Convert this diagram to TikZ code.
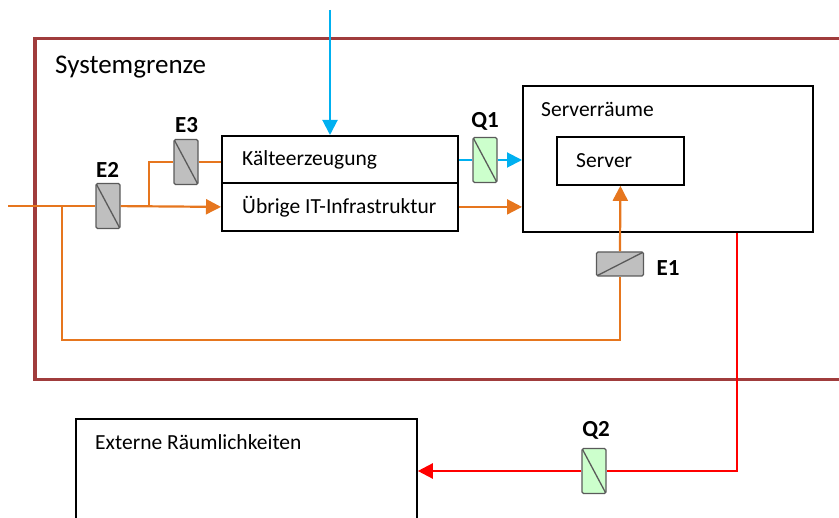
\documentclass[tikz,border=0pt]{standalone}
\usepackage{fontspec}
\setmainfont{Carlito}
\usepackage{tikz}
\usetikzlibrary{calc, arrows.meta, positioning}

\definecolor{grenzrot}{RGB}{160,60,60}
\definecolor{kaltblau}{RGB}{0,176,240}
\definecolor{stromorange}{RGB}{230,118,30}
\definecolor{waermerot}{RGB}{255,0,0}
\definecolor{zaehlergrau}{RGB}{191,191,191}
\definecolor{zaehlergruen}{RGB}{204,255,204}
\definecolor{randgrau}{RGB}{90,90,90}

\begin{document}
\begin{tikzpicture}[
        x={(1pt,0)}, y={(0,-1pt)},
        frame/.style={rectangle, draw=grenzrot, line width=3.5pt, anchor=north west},
        box/.style={rectangle, draw, line width=1.8pt, anchor=north west},
        txt/.style={anchor=west, inner sep=0pt, font=\fontsize{21.5}{25}\selectfont},
        lbl/.style={inner sep=0pt, font=\bfseries\fontsize{23}{27}\selectfont},
        meterv/.style={rectangle, draw=randgrau, line width=1.3pt, rounded corners=1.5pt, minimum width=24pt, minimum height=45pt, inner sep=0pt,
            path picture={\draw[randgrau, line width=1.3pt] (path picture bounding box.north west) -- (path picture bounding box.south east);}},
        meterh/.style={rectangle, draw=randgrau, line width=1.3pt, rounded corners=1.5pt, minimum width=47pt, minimum height=24pt, inner sep=0pt,
            path picture={\draw[randgrau, line width=1.3pt] (path picture bounding box.south west) -- (path picture bounding box.north east);}},
        orange/.style={draw=stromorange, line width=2.2pt},
        blau/.style={draw=kaltblau, line width=2pt},
        rot/.style={draw=waermerot, line width=2.4pt},
        arrow/.style={-{Triangle[length=15pt, width=15pt]}}
    ]
        \useasboundingbox (0,0) rectangle (839,518);
        \clip (0,0) rectangle (839,518);

        % Systemgrenze
        \node[frame, minimum width=830pt, minimum height=341pt] (sysgrenze) at (33,37) {};
        \node[txt, font=\fontsize{27}{31}\selectfont] (sysgrenze_text) at (55,67) {Systemgrenze};

        % Boxes
        \node[box, minimum width=236pt, minimum height=47pt] (kaelte) at (221,135) {};
        \node[txt] (kaelte_text) at (242,160) {Kälteerzeugung};
        \node[box, minimum width=236pt, minimum height=48pt] (uebrige) at (221,182) {};
        \node[txt] (uebrige_text) at (242,207) {Übrige IT-Infrastruktur};
        \node[box, minimum width=290pt, minimum height=146pt] (serverraum) at (522,85) {};
        \node[txt] (serverraum_text) at (541,109) {Serverräume};
        \node[box, minimum width=127pt, minimum height=48pt] (server) at (556,136) {};
        \node[txt] (server_text) at (576,161) {Server};
        \node[box, minimum width=341pt, minimum height=150pt] (extern) at (75,418) {};
        \node[txt] (extern_text) at (95,442) {Externe Räumlichkeiten};

        % Zaehler
        \node[meterv, fill=zaehlergrau] (e2) at (108,206) {};
        \node[lbl] (e2_lbl) at (107.5,170) {E2};
        \node[meterv, fill=zaehlergrau] (e3) at (186,162) {};
        \node[lbl] (e3_lbl) at (186.5,125) {E3};
        \node[meterh, fill=zaehlergrau] (e1) at (620,264) {};
        \node[lbl] (e1_lbl) at (668,268) {E1};
        \node[meterv, fill=zaehlergruen] (q1) at (485,160) {};
        \node[lbl] (q1_lbl) at (485,121) {Q1};
        \node[meterv, fill=zaehlergruen] (q2) at (594,471) {};
        \node[lbl] (q2_lbl) at (596,430) {Q2};

        % Hilfspunkte
        \coordinate (kalt_in) at (330,10);
        \coordinate (strom_in) at (8,206);
        \coordinate (abzw_e1) at (62,206);
        \coordinate (abzw_e3) at (149,206);
        \coordinate (ecke_e1) at (62,340);
        \coordinate (ecke_q2) at (737,471);

        % Kaelte
        \draw[blau, arrow] (kalt_in) -- (kalt_in |- kaelte.north);
        \draw[blau] (kaelte.east |- q1) -- (q1);
        \draw[blau, arrow] (q1) -- (serverraum.west |- q1);

        % Strom
        \draw[orange] (strom_in) -- (e2);
        \draw[orange, arrow] (e2) -- (uebrige.west);
        \draw[orange] (abzw_e3) |- (e3);
        \draw[orange] (e3) -- (kaelte.west |- e3);
        \draw[orange, arrow] (uebrige.east) -- (serverraum.west |- uebrige.east);
        \draw[orange] (abzw_e1) -- (ecke_e1) -| (e1.south);
        \draw[orange, arrow] (e1.north) -- (server.south);

        % Abwaerme
        \draw[rot] (serverraum.south -| ecke_q2) -- (ecke_q2) -- (q2);
        \draw[rot, arrow] (q2) -- (extern.east |- q2);
    \end{tikzpicture}
\end{document}
